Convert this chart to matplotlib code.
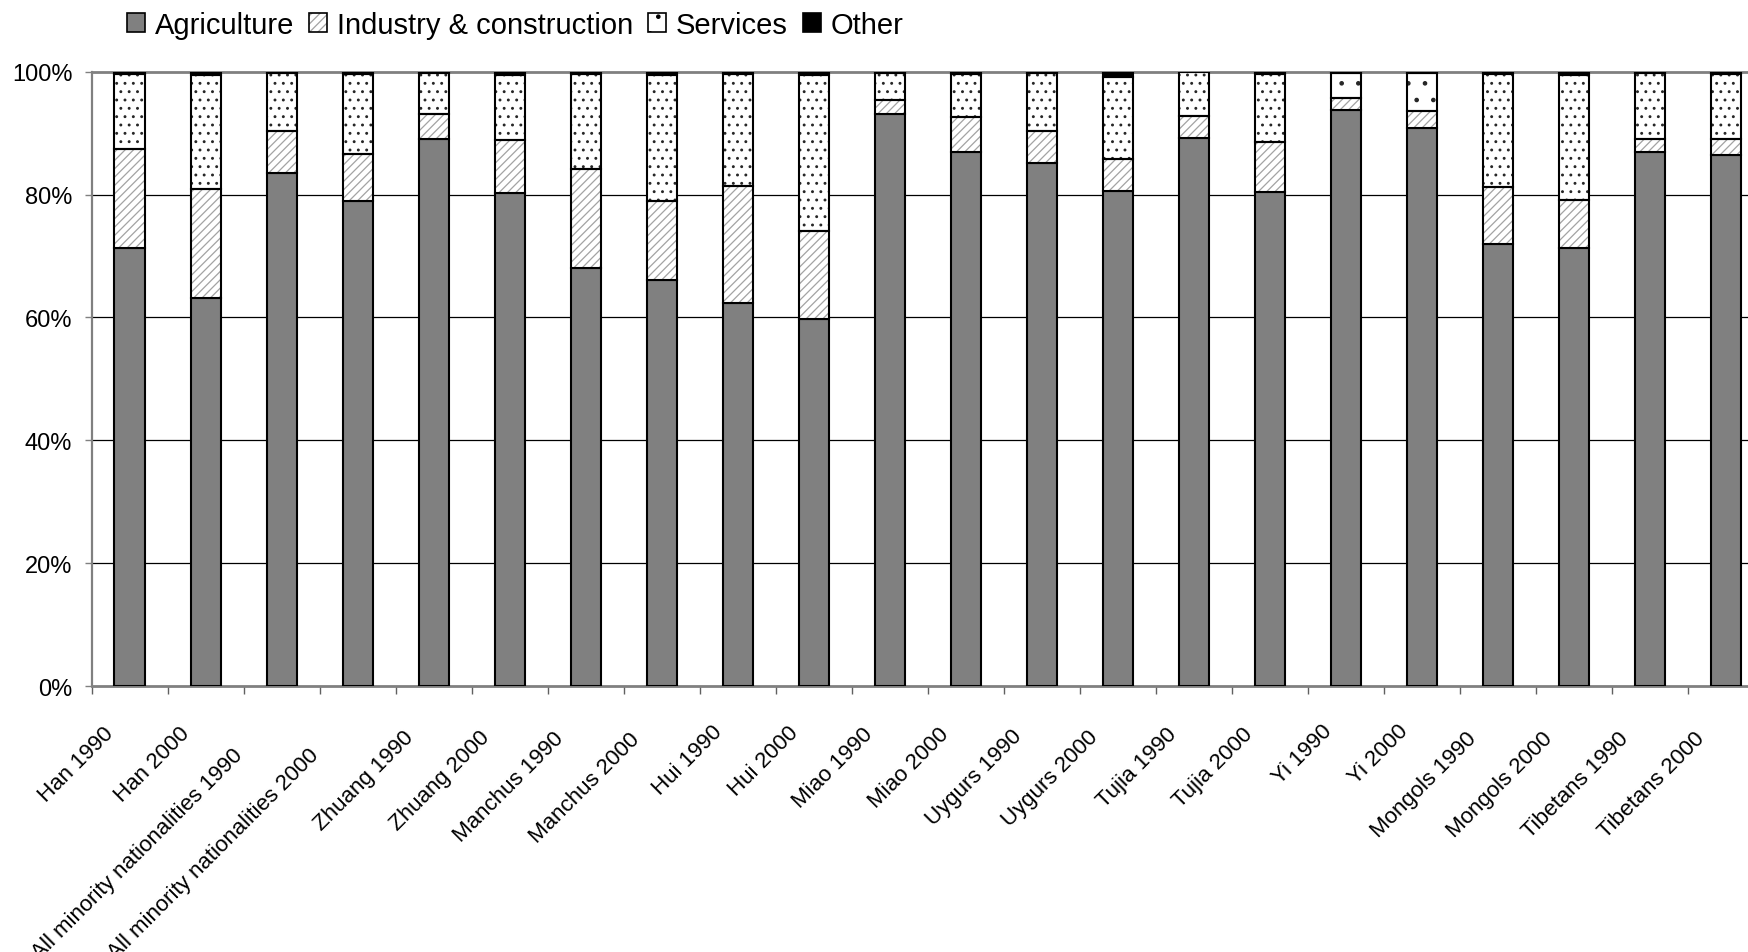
import numpy as np
import matplotlib
matplotlib.use("Agg")
import matplotlib.pyplot as plt
from matplotlib.patches import Patch
from matplotlib.font_manager import FontProperties
from matplotlib.transforms import ScaledTranslation, blended_transform_factory

# Employment by sector (% of employed population)
categories = [
    "Han 1990", "Han 2000",
    "All minority nationalities 1990", "All minority nationalities 2000",
    "Zhuang 1990", "Zhuang 2000", "Manchus 1990", "Manchus 2000",
    "Hui 1990", "Hui 2000", "Miao 1990", "Miao 2000",
    "Uygurs 1990", "Uygurs 2000", "Tujia 1990", "Tujia 2000",
    "Yi 1990", "Yi 2000", "Mongols 1990", "Mongols 2000",
    "Tibetans 1990", "Tibetans 2000",
]
agriculture = [71.3, 63.2, 83.6, 78.9, 89.1, 80.2, 68.1, 66.1, 62.4, 59.8, 93.2,
               87.0, 85.2, 80.6, 89.2, 80.4, 93.8, 90.8, 71.9, 71.3, 86.9, 86.5]
industry = [16.1, 17.7, 6.7, 7.7, 4.1, 8.7, 16.0, 12.9, 19.0, 14.3, 2.2,
            5.7, 5.2, 5.2, 3.6, 8.2, 1.9, 2.8, 9.4, 7.8, 2.2, 2.6]
services = [12.3, 18.6, 9.5, 13.0, 6.6, 10.6, 15.6, 20.5, 18.3, 25.3, 4.4,
            7.0, 9.4, 13.4, 7.1, 11.1, 4.1, 6.2, 18.4, 20.4, 10.7, 10.6]
other = [0.3, 0.5, 0.2, 0.4, 0.2, 0.5, 0.3, 0.5, 0.3, 0.6, 0.2,
         0.3, 0.2, 0.8, 0.1, 0.3, 0.2, 0.2, 0.3, 0.5, 0.2, 0.3]
series_names = ["Agriculture", "Industry & construction", "Services", "Other"]
y_ticks = [0, 20, 40, 60, 80, 100]

plt.rcParams["font.family"] = ["Liberation Sans", "DejaVu Sans"]
plt.rcParams["hatch.linewidth"] = 0.9

W, H = 1748, 953
fig = plt.figure(figsize=(W / 100, H / 100), dpi=100)
# plot area runs past the right edge of the canvas
ax = fig.add_axes([91.7 / W, (H - 687.0) / H, 1672 / W, 614.2 / H])

x = np.arange(len(categories))
width = 0.4
agri = np.array(agriculture)
ind = np.array(industry)
ser = np.array(services)
oth = np.array(other)
base_ind = agri
base_ser = agri + ind
base_oth = base_ser + ser

edge_lw = 1.5
ax.bar(x, agri, width, color="#808080", edgecolor="black", linewidth=edge_lw, zorder=3)

ax.bar(x, ind, width, bottom=base_ind, color="white", edgecolor="#a3a3a3",
       hatch="////", linewidth=0, zorder=3)
ax.bar(x, ind, width, bottom=base_ind, fill=False, edgecolor="black",
       linewidth=edge_lw, zorder=4)

ser_bars = ax.bar(x, ser, width, bottom=base_ser, color="white", edgecolor="#262626",
                  linewidth=0, zorder=3)
for name, patch in zip(categories, ser_bars):
    patch.set_hatch("." if name.startswith("Yi ") else "..")
ax.bar(x, ser, width, bottom=base_ser, fill=False, edgecolor="black",
       linewidth=edge_lw, zorder=4)

ax.bar(x, oth, width, bottom=base_oth, color="black", edgecolor="black",
       linewidth=edge_lw, zorder=4)

# axes styling
ax.set_xlim(-0.5, len(categories) - 0.5)
ax.set_ylim(0, 100)
ax.set_yticks(y_ticks)
ax.set_yticklabels([f"{v}%" for v in y_ticks], fontsize=17)
ax.tick_params(axis="y", length=5, width=1, color="#808080", pad=9.0)
ax.set_xticks(np.arange(-0.5, len(categories), 1.0))
ax.set_xticklabels([])
ax.tick_params(axis="x", length=6, width=1, color="#606060")

ax.set_axisbelow(True)
ax.yaxis.grid(True, color="black", linewidth=0.9)
grid_lines = ax.get_ygridlines()
grid_lines[0].set_visible(False)
grid_lines[-1].set_visible(False)

for side in ("left", "bottom", "top"):
    ax.spines[side].set_color("#808080")
ax.spines["left"].set_linewidth(1.6)
ax.spines["bottom"].set_linewidth(2.0)
ax.spines["top"].set_linewidth(2.0)
ax.spines["right"].set_visible(False)

# rotated category labels, longer ones set a little further down the diagonal
label_fp = FontProperties(family=["Liberation Sans", "DejaVu Sans"], size=16)
renderer = fig.canvas.get_renderer()
base_tr = blended_transform_factory(ax.transData, ax.transAxes)
for i, lab in enumerate(categories):
    w, _, _ = renderer.get_text_width_height_descent(lab, label_fp, ismath=False)
    shift = 16 + 0.115 * w
    tr = base_tr + ScaledTranslation(-shift / 100, -(shift + 9) / 100, fig.dpi_scale_trans)
    ax.text(i, 0, lab, rotation=45, rotation_mode="anchor", ha="right", va="top",
            transform=tr, fontproperties=label_fp, clip_on=False)

# legend
handles = [
    Patch(facecolor="#808080", edgecolor="black", linewidth=1.2),
    (Patch(facecolor="white", edgecolor="#a3a3a3", hatch="////", linewidth=0),
     Patch(fill=False, edgecolor="black", linewidth=1.2)),
    (Patch(facecolor="white", edgecolor="black", hatch=".", linewidth=0),
     Patch(fill=False, edgecolor="black", linewidth=1.2)),
    Patch(facecolor="black", edgecolor="black", linewidth=1.2),
]
fig.legend(handles, series_names, loc="center left",
           bbox_to_anchor=(127 / W, 1 - 26 / H), ncol=4, frameon=False,
           fontsize=21, handlelength=0.62, handleheight=0.62,
           handletextpad=0.33, columnspacing=0.52, borderpad=0, borderaxespad=0)

fig.savefig("out.png", dpi=100)
